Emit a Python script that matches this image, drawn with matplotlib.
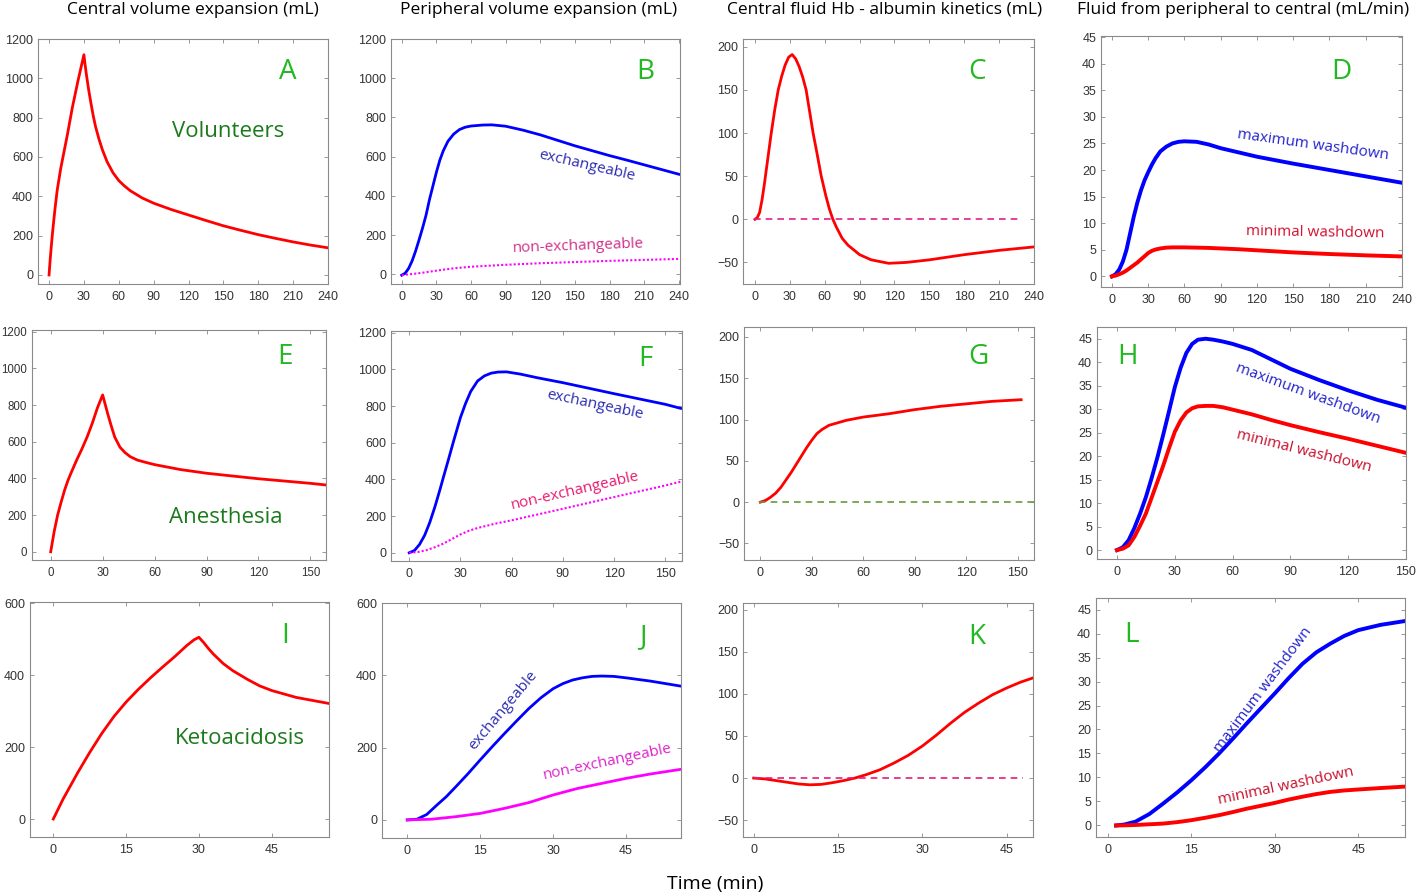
import numpy as np
import matplotlib
matplotlib.use("Agg")
import matplotlib.pyplot as plt

# ---- data (time in min) ----
# row 1: volunteers
A_t = [0, 1, 2, 3, 5, 7, 10, 13, 16, 20, 25, 30, 31, 32, 33, 34, 36, 38, 40, 43, 46, 50, 55, 60, 65,
       70, 80, 90, 105, 120, 135, 150, 165, 180, 195, 210, 225, 240]
A_central = [0, 80, 150, 215, 330, 430, 540, 630, 720, 850, 990, 1120, 1070, 1025, 985, 945, 875, 810, 755,
             690, 635, 575, 520, 480, 452, 428, 392, 365, 333, 305, 277, 250, 227, 205, 186, 168, 152, 138]

B_t = [0, 3, 6, 9, 12, 15, 18, 21, 24, 27, 30, 33, 36, 40, 45, 50, 55, 60, 70, 78, 90, 105, 120, 135,
       150, 165, 180, 195, 210, 225, 240]
B_exch = [-5, 5, 30, 68, 118, 175, 235, 300, 380, 450, 520, 582, 630, 678, 715, 738, 750, 756, 761, 762,
          755, 735, 711, 683, 655, 630, 605, 582, 558, 534, 510]
B_t2 = [0, 15, 30, 45, 60, 90, 120, 150, 180, 210, 240]
B_nonexch = [-5, 5, 18, 30, 38, 48, 56, 62, 68, 73, 78]

C_t = [0, 2, 4, 6, 8, 10, 12, 14, 17, 20, 23, 26, 29, 32, 35, 38, 41, 44, 47, 50, 53, 57, 61, 64, 67,
       70, 75, 80, 90, 100, 115, 130, 150, 180, 210, 240]
C_hb = [0, 2, 8, 22, 40, 60, 80, 100, 127, 150, 166, 179, 188, 191, 186, 177, 165, 150, 125, 100, 79, 50,
        27, 12, 0, -9, -22, -30, -41, -47, -51, -50, -47, -41, -36, -32]

D_t = [0, 3, 6, 9, 12, 15, 18, 21, 24, 27, 30, 33, 36, 40, 45, 50, 55, 60, 70, 80, 90, 105, 120, 150,
       180, 210, 240]
D_max = [0, 0.4, 1.3, 2.8, 5.0, 8.1, 11.2, 13.9, 16.2, 18.1, 19.6, 21.0, 22.2, 23.5, 24.4, 25.0, 25.3,
         25.4, 25.3, 24.8, 24.1, 23.3, 22.5, 21.2, 20.0, 18.8, 17.6]
D_min = [0, 0.15, 0.4, 0.7, 1.1, 1.6, 2.1, 2.6, 3.2, 3.8, 4.4, 4.8, 5.05, 5.25, 5.4, 5.45, 5.45, 5.45,
         5.4, 5.35, 5.25, 5.1, 4.9, 4.5, 4.2, 3.95, 3.75]

# row 2: anesthesia
E_t = [0, 1, 2, 4, 6, 8, 10, 12, 15, 18, 21, 24, 27, 30, 31, 32, 33, 35, 37, 40, 43, 46, 50, 55, 60,
       75, 90, 120, 150, 159]
E_central = [0, 55, 110, 200, 270, 335, 390, 435, 500, 560, 625, 700, 785, 855, 820, 785, 750, 685, 625,
             570, 540, 518, 500, 487, 475, 448, 428, 398, 373, 364]

F_t = [0, 3, 6, 9, 12, 15, 18, 20, 23, 26, 30, 33, 36, 40, 44, 48, 52, 57, 65, 75, 90, 105, 120, 135,
       150, 159]
F_exch = [0, 12, 45, 95, 165, 250, 345, 412, 510, 610, 738, 815, 880, 937, 965, 980, 986, 987, 975, 955,
          928, 898, 868, 839, 810, 788]
F_t2 = [0, 5, 10, 15, 20, 25, 30, 35, 40, 50, 60, 90, 120, 150, 159]
F_nonexch = [0, 4, 14, 30, 50, 75, 100, 120, 135, 158, 177, 240, 304, 367, 388]

G_t = [0, 3, 6, 9, 12, 15, 18, 21, 24, 27, 30, 33, 36, 40, 45, 50, 60, 75, 90, 105, 120, 135, 152]
G_hb = [0, 2, 6, 11, 18, 27, 36, 46, 56, 66, 75, 83, 88, 93, 96, 99, 103, 107, 112, 116, 119, 122, 124]

H_t = [0, 3, 6, 9, 12, 15, 18, 21, 24, 27, 30, 33, 36, 39, 42, 46, 50, 55, 60, 70, 80, 90, 105, 120,
       135, 150]
H_max = [0, 0.6, 2.1, 4.7, 7.8, 11.3, 15.4, 19.8, 24.6, 29.6, 34.7, 38.8, 42.0, 43.9, 44.8, 45.0, 44.8,
         44.4, 43.9, 42.6, 40.6, 38.6, 36.2, 34.0, 32.0, 30.3]
H_min = [0, 0.3, 1.0, 2.8, 5.2, 7.8, 11.2, 14.6, 18.0, 21.7, 25.2, 27.6, 29.3, 30.2, 30.6, 30.7, 30.7,
         30.4, 29.9, 28.9, 27.7, 26.6, 25.1, 23.7, 22.2, 20.7]

# row 3: ketoacidosis
I_t = [0, 2, 5, 7.5, 10, 12.5, 15, 17.5, 20, 22.5, 25, 27.5, 29, 30, 31, 32, 33, 35, 37, 40,
       42.5, 45, 50, 56.8]
I_central = [0, 55, 128, 185, 238, 285, 325, 360, 392, 422, 451, 482, 498, 505, 490, 473, 458,
             432, 412, 388, 370, 357, 338, 321]

J_t = [0, 2, 4, 6, 8, 10, 12.5, 15, 17.5, 20, 22.5, 25, 27.5, 30, 32, 34, 36, 38, 40, 42.5, 45, 50, 56.3]
J_exch = [0, 2, 15, 40, 64, 92, 128, 166, 203, 239, 274, 308, 338, 363, 377, 387, 393, 397, 398, 397,
          393, 384, 370]
J_t2 = [0, 5, 10, 15, 20, 25, 30, 35, 40, 45, 50, 56.3]
J_nonexch = [0, 2, 9, 18, 32, 48, 69, 87, 101, 115, 127, 140]

K_t = [0, 2, 4, 6, 8, 10, 12, 14, 16, 18, 20, 22.5, 25, 27.5, 30, 32.5, 35, 37.5, 40, 42.5, 45, 47.5, 49.7]
K_hb = [0, -1, -3, -5, -7, -8, -7.5, -5.5, -3, 0, 4, 10, 18, 27, 38, 51, 65, 78, 89, 99, 107, 114, 119]

L_t = [1.5, 3, 5, 7.5, 10, 12.5, 15, 17.5, 20, 22.5, 25, 27.5, 30, 32.5, 35, 37.5, 40, 42.5, 45, 49, 53.4]
L_max = [0, 0.2, 0.8, 2.4, 4.6, 6.9, 9.4, 12.1, 15.0, 18.1, 21.3, 24.4, 27.5, 30.7, 33.7, 36.1, 37.9,
         39.5, 40.7, 41.8, 42.6]
L_min = [0, 0.03, 0.1, 0.25, 0.4, 0.7, 1.1, 1.6, 2.15, 2.8, 3.5, 4.1, 4.7, 5.4, 6.0, 6.55, 7.0, 7.3,
         7.5, 7.8, 8.1]

col_titles = ["Central volume expansion (mL)", "Peripheral volume expansion (mL)",
              "Central fluid Hb - albumin kinetics (mL)", "Fluid from peripheral to central (mL/min)"]

# ---- style ----
W, H = 1416, 896
fig = plt.figure(figsize=(W / 100, H / 100), dpi=100)
TXT = "Open Sans"
TICKF = "Liberation Sans"
LETTER = "#22b822"
COND = "#1b7a1b"


def panel(l, t, r, b, xlim, ylim, xt, yt, fs=9):
    ax = fig.add_axes([l / W, 1 - b / H, (r - l) / W, (b - t) / H])
    ax.set_xlim(xlim)
    ax.set_ylim(ylim)
    ax.set_xticks(xt)
    ax.set_yticks(yt)
    ax.tick_params(direction="in", top=True, right=True, length=3, width=0.6,
                   color="#888888", labelsize=fs, labelcolor="#333333")
    ax.tick_params(axis="y", pad=3.5)
    ax.tick_params(axis="x", pad=5)
    for lab in ax.get_xticklabels() + ax.get_yticklabels():
        lab.set_family(TICKF)
    for s in ax.spines.values():
        s.set_color("#8a8a8a")
        s.set_linewidth(0.8)
    return ax


def letter(ax, s, fx, fy):
    ax.text(fx, fy, s, transform=ax.transAxes, color=LETTER, fontsize=20,
            family=TXT, ha="center", va="center")


def label(ax, s, fx, fy, color, rot=0, size=11):
    ax.text(fx, fy, s, transform=ax.transAxes, color=color, fontsize=size,
            family=TXT, ha="center", va="center", rotation=rot, rotation_mode="anchor")


x240 = range(0, 241, 30)
x150 = range(0, 151, 30)
x45 = [0, 15, 30, 45]
y1200 = range(0, 1201, 200)
yhb = range(-50, 201, 50)
y45 = range(0, 46, 5)
y600 = [0, 200, 400, 600]

# row 1
ax = panel(38, 39, 328, 284, (-9.5, 240), (-46, 1200), x240, y1200)
ax.plot(A_t, A_central, color="red", lw=2)
letter(ax, "A", 0.862, 0.865)
label(ax, "Volunteers", 0.655, 0.624, COND, size=16)

ax = panel(391, 39, 680, 284, (-9.3, 241), (-50, 1200), x240, y1200)
ax.plot(B_t, B_exch, color="blue", lw=2)
ax.plot(B_t2, B_nonexch, color="magenta", lw=1.5, ls=(0, (1, 1)))
letter(ax, "B", 0.880, 0.865)
label(ax, "exchangeable", 0.679, 0.482, "#2d2db0", rot=-13)
label(ax, "non-exchangeable", 0.647, 0.155, "#d0308a", rot=2)

ax = panel(743, 39, 1034, 284, (-10.3, 240), (-75, 209), x240, yhb)
ax.plot(C_t, C_hb, color="red", lw=2)
ax.plot([-1, 230], [0, 0], color="#e0208a", lw=1.2, ls=(0, (4, 3)))
letter(ax, "C", 0.804, 0.865)

ax = panel(1101, 36, 1402, 287, (-9.1, 240), (-2, 45.2), x240, y45)
ax.plot(D_t, D_max, color="blue", lw=2.8)
ax.plot(D_t, D_min, color="red", lw=2.8)
letter(ax, "D", 0.80, 0.857)
label(ax, "maximum washdown", 0.705, 0.566, "#2424cc", rot=-8)
label(ax, "minimal washdown", 0.711, 0.215, "#d41030", rot=-1)

# row 2
ax = panel(32, 330, 326, 560, (-10.8, 159), (-45, 1209), x150, y1200, fs=8.3)
ax.plot(E_t, E_central, color="red", lw=2)
letter(ax, "E", 0.861, 0.883)
label(ax, "Anesthesia", 0.66, 0.183, COND, size=16)

ax = panel(391, 331, 682, 561, (-10.7, 159.8), (-45, 1210), x150, y1200)
ax.plot(F_t, F_exch, color="blue", lw=2)
ax.plot(F_t2, F_nonexch, color="magenta", lw=1.5, ls=(0, (1, 1)))
letter(ax, "F", 0.874, 0.88)
label(ax, "exchangeable", 0.699, 0.677, "#2d2db0", rot=-12)
label(ax, "non-exchangeable", 0.634, 0.303, "#e8186e", rot=13)

ax = panel(744, 327, 1034, 560, (-9.5, 159.5), (-70, 212), x150, yhb)
ax.plot(G_t, G_hb, color="red", lw=2)
ax.plot([-1, 159.5], [0, 0], color="#6a9a3a", lw=1.2, ls=(0, (4, 3)))
letter(ax, "G", 0.807, 0.871)

ax = panel(1097, 327, 1406, 559, (-10.4, 150), (-1.9, 47.5), x150, y45)
ax.plot(H_t, H_max, color="blue", lw=2.8)
ax.plot(H_t, H_min, color="red", lw=2.8)
letter(ax, "H", 0.098, 0.87)
label(ax, "maximum washdown", 0.683, 0.71, "#2424cc", rot=-20)
label(ax, "minimal washdown", 0.671, 0.465, "#c8102e", rot=-14)

# row 3
ax = panel(30, 602, 329, 837, (-4.8, 56.8), (-50, 603), x45, y600)
ax.plot(I_t, I_central, color="red", lw=2)
letter(ax, "I", 0.853, 0.856)
label(ax, "Ketoacidosis", 0.702, 0.421, COND, size=16)

ax = panel(382, 603, 681, 838, (-5.2, 56.3), (-50, 600), x45, y600)
ax.plot(J_t, J_exch, color="blue", lw=2)
ax.plot(J_t2, J_nonexch, color="magenta", lw=2)
letter(ax, "J", 0.874, 0.856)
label(ax, "exchangeable", 0.404, 0.543, "#2d2db0", rot=50)
label(ax, "non-exchangeable", 0.753, 0.322, "#dd22cc", rot=12)

ax = panel(743, 603, 1033, 837, (-1.9, 49.7), (-70, 208), x45, yhb)
ax.plot(K_t, K_hb, color="red", lw=2)
ax.plot([0, 48], [0, 0], color="#e0207a", lw=1.2, ls=(0, (4, 3)))
letter(ax, "K", 0.805, 0.856)

ax = panel(1096, 598, 1405, 837, (-2.1, 53.4), (-2.4, 47.4), x45, y45)
ax.plot(L_t, L_max, color="blue", lw=2.8)
ax.plot(L_t, L_min, color="red", lw=2.8)
letter(ax, "L", 0.115, 0.845)
label(ax, "maximum washdown", 0.541, 0.615, "#2424cc", rot=53)
label(ax, "minimal washdown", 0.615, 0.212, "#c8102e", rot=12)

# column titles and common x label
for cx, s in zip([193, 539, 885, 1243], col_titles):
    fig.text(cx / W, 1 - 10 / H, s, ha="center", va="center", fontsize=12.5, family=TXT)
fig.text(715 / W, 1 - 884 / H, "Time (min)", ha="center", va="center", fontsize=14, family=TXT)

fig.savefig("out.png", dpi=100)
